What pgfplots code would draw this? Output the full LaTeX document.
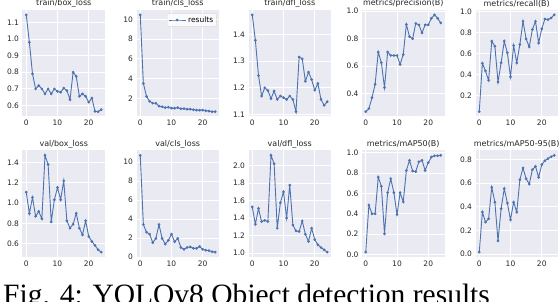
\documentclass[border=0pt]{standalone}
\usepackage{fontspec}
\setmainfont{DejaVu Sans}
\newfontfamily\capfont{Liberation Serif}
\usepackage{pgfplots}
\pgfplotsset{compat=1.18}
\usepackage{pgfplotstable}
\definecolor{bgc}{HTML}{EAEAF2}
\definecolor{sbblue}{HTML}{4C72B0}
\definecolor{txt}{HTML}{262626}

\pgfplotstableread{
epoch tbox tcls tdfl prec rec vbox vcls vdfl mapa mapb
0 1.145 10.45 1.475 0.269 0.049 1.108 10.7 1.527 0.023 0.017
1 0.98 3.5 1.379 0.291 0.509 0.898 3.4 1.33 0.485 0.356
2 0.79 2.2 1.246 0.371 0.436 1.056 2.6 1.51 0.40 0.271
3 0.70 1.7 1.169 0.468 0.347 0.87 2.4 1.36 0.40 0.30
4 0.72 1.5 1.20 0.703 0.719 0.918 1.5 1.375 0.76 0.565
5 0.70 1.5 1.19 0.625 0.672 0.846 1.95 1.36 0.67 0.44
6 0.67 1.2 1.159 0.444 0.331 1.47 3.4 2.117 0.203 0.113
7 0.70 1.15 1.1875 0.703 0.514 1.38 1.95 2.02 0.607 0.384
8 0.67 1.05 1.156 0.678 0.719 0.816 1.35 1.284 0.744 0.554
9 0.70 1.1 1.169 0.678 0.609 1.033 1.75 1.576 0.607 0.432
10 0.685 1.0 1.1625 0.678 0.379 1.154 2.4 1.70 0.393 0.291
11 0.68 1.0 1.156 0.613 0.678 1.033 1.6 1.40 0.607 0.44
12 0.705 1.05 1.169 0.685 0.514 1.22 1.95 1.776 0.518 0.356
13 0.69 0.95 1.156 0.904 0.688 0.826 1.0 1.32 0.826 0.63
14 0.635 0.95 1.11 0.815 0.909 0.754 0.8 1.254 0.925 0.729
15 0.80 0.9 1.316 0.80 0.741 0.793 1.0 1.246 0.82 0.638
16 0.775 0.9 1.309 0.911 0.665 0.90 1.05 1.367 0.815 0.593
17 0.655 0.85 1.225 0.901 0.83 0.754 0.9 1.216 0.911 0.715
18 0.67 0.8 1.259 0.843 0.909 0.688 0.9 1.133 0.925 0.743
19 0.655 0.8 1.231 0.901 0.703 0.826 1.1 1.284 0.826 0.65
20 0.62 0.8 1.191 0.901 0.836 0.672 0.8 1.155 0.902 0.757
21 0.645 0.75 1.216 0.949 0.93 0.623 0.7 1.095 0.957 0.791
22 0.565 0.7 1.156 0.974 0.925 0.584 0.65 1.064 0.97 0.808
23 0.563 0.65 1.134 0.949 0.94 0.541 0.55 1.038 0.97 0.825
24 0.575 0.65 1.1475 0.915 0.97 0.518 0.5 1.011 0.974 0.836
}\res

\pgfplotsset{
 sb/.style={
  scale only axis,
  anchor=south west,
  width=82.5pt, height=106.5pt,
  axis background/.style={fill=bgc},
  axis line style={draw=none},
  grid=major,
  major grid style={white, line width=0.8pt},
  major tick length=0pt,
  enlargelimits=0.05,
  xtick={0,10,20},
  /pgf/number format/assume math mode=true,
  tick label style={font=\fontsize{7.5}{8}\selectfont, text=txt},
  title style={font=\fontsize{8}{9}\selectfont, text=txt, yshift=-7pt},
  yticklabel style={/pgf/number format/fixed, /pgf/number format/fixed zerofill, /pgf/number format/precision=1},
 },
 intt/.style={yticklabel style={/pgf/number format/precision=0, /pgf/number format/fixed zerofill=false}},
 res/.style={color=sbblue, line width=0.9pt, mark=*, mark size=0.85pt, mark options={fill=sbblue, draw=sbblue}},
}

\begin{document}
\begin{tikzpicture}
% row 1
\begin{axis}[sb, at={(22.5pt,185.5pt)}, title={train/box\_loss}, ytick={0.6,0.7,0.8,0.9,1.0,1.1}]
\addplot[res] table[x=epoch,y=tbox]{\res};
\end{axis}
\begin{axis}[sb, intt, at={(136.5pt,185.5pt)}, title={train/cls\_loss}, ytick={2,4,6,8,10},
  legend style={at={(0.97,0.97)}, anchor=north east, font=\fontsize{7.5}{8}\selectfont, fill=white, fill opacity=0.8, text opacity=1, draw=black!15, rounded corners=1.5pt, inner sep=1pt}]
\addplot[res] table[x=epoch,y=tcls]{\res};
\addlegendentry{results}
\end{axis}
\begin{axis}[sb, at={(248.5pt,185.5pt)}, title={train/dfl\_loss}, ytick={1.1,1.2,1.3,1.4}]
\addplot[res] table[x=epoch,y=tdfl]{\res};
\end{axis}
\begin{axis}[sb, at={(362pt,185.5pt)}, title={metrics/precision(B)}, ytick={0.4,0.6,0.8,1.0}]
\addplot[res] table[x=epoch,y=prec]{\res};
\end{axis}
\begin{axis}[sb, at={(475.5pt,185.5pt)}, title={metrics/recall(B)}, ytick={0.2,0.4,0.6,0.8,1.0}]
\addplot[res] table[x=epoch,y=rec]{\res};
\end{axis}
% row 2
\begin{axis}[sb, at={(22.5pt,45pt)}, title={val/box\_loss}, ytick={0.6,0.8,1.0,1.2,1.4}]
\addplot[res] table[x=epoch,y=vbox]{\res};
\end{axis}
\begin{axis}[sb, intt, at={(136.5pt,45pt)}, title={val/cls\_loss}, ytick={0,2,4,6,8,10}]
\addplot[res] table[x=epoch,y=vcls]{\res};
\end{axis}
\begin{axis}[sb, at={(248.5pt,45pt)}, title={val/dfl\_loss}, ytick={1.0,1.2,1.4,1.6,1.8,2.0}]
\addplot[res] table[x=epoch,y=vdfl]{\res};
\end{axis}
\begin{axis}[sb, at={(362pt,45pt)}, title={metrics/mAP50(B)}, ytick={0,0.2,0.4,0.6,0.8,1.0}]
\addplot[res] table[x=epoch,y=mapa]{\res};
\end{axis}
\begin{axis}[sb, at={(475.5pt,45pt)}, title={metrics/mAP50-95(B)}, ytick={0,0.2,0.4,0.6,0.8}]
\addplot[res] table[x=epoch,y=mapb]{\res};
\end{axis}
\node[anchor=base west, inner sep=0pt, font=\capfont\fontsize{29.5}{30}\selectfont] at (3pt,-2.5pt) {Fig. 4: YOLOv8 Object detection results};
\pgfresetboundingbox
\path[use as bounding box] (0pt,0pt) rectangle (560pt,302pt);
\end{tikzpicture}
\end{document}
